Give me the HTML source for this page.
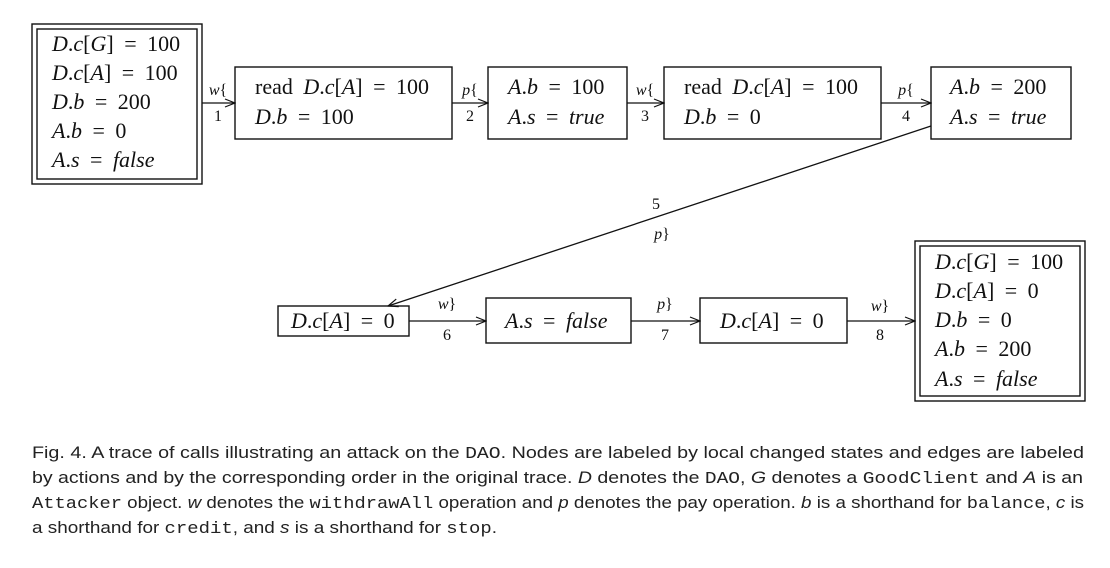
<!DOCTYPE html>
<html><head><meta charset="utf-8"><style>
html,body{margin:0;padding:0;background:#fff;}
svg{display:block;}
.s{font-family:"Liberation Serif",serif;font-size:22px;word-spacing:5px;fill:#111;}
.l{font-family:"Liberation Serif",serif;font-size:16px;fill:#111;}
.c{font-family:"Liberation Sans",sans-serif;font-size:17px;fill:#222;}
.m{font-family:"Liberation Mono",monospace;}
.i{font-style:italic;}
rect{fill:none;stroke:#111;stroke-width:1.4;}
line,polyline{stroke:#111;stroke-width:1.3;fill:none;}
</style></head><body>
<svg width="1110" height="568" viewBox="0 0 1110 568">
<defs><marker id="ar" markerWidth="12" markerHeight="10" refX="11" refY="5" orient="auto" markerUnits="userSpaceOnUse"><polyline points="1,1 11,5 1,9" style="stroke:#111;stroke-width:1.2;fill:none"/></marker></defs>

<g>
<rect x="32" y="24" width="170" height="160"/><rect x="37" y="29" width="160" height="150"/>
<text class="s" x="52" y="51"><tspan class="i">D</tspan>.<tspan class="i">c</tspan>[<tspan class="i">G</tspan>] = 100</text>
<text class="s" x="52" y="80"><tspan class="i">D</tspan>.<tspan class="i">c</tspan>[<tspan class="i">A</tspan>] = 100</text>
<text class="s" x="52" y="109"><tspan class="i">D</tspan>.<tspan class="i">b</tspan> = 200</text>
<text class="s" x="52" y="138"><tspan class="i">A</tspan>.<tspan class="i">b</tspan> = 0</text>
<text class="s" x="52" y="167"><tspan class="i">A</tspan>.<tspan class="i">s</tspan> = <tspan class="i">false</tspan></text>
</g>

<g>
<rect x="235" y="67" width="217" height="72"/>
<text class="s" x="255" y="94">read <tspan class="i">D</tspan>.<tspan class="i">c</tspan>[<tspan class="i">A</tspan>] = 100</text>
<text class="s" x="255" y="124"><tspan class="i">D</tspan>.<tspan class="i">b</tspan> = 100</text>
</g>
<g>
<rect x="488" y="67" width="139" height="72"/>
<text class="s" x="508" y="94"><tspan class="i">A</tspan>.<tspan class="i">b</tspan> = 100</text>
<text class="s" x="508" y="124"><tspan class="i">A</tspan>.<tspan class="i">s</tspan> = <tspan class="i">true</tspan></text>
</g>
<g>
<rect x="664" y="67" width="217" height="72"/>
<text class="s" x="684" y="94">read <tspan class="i">D</tspan>.<tspan class="i">c</tspan>[<tspan class="i">A</tspan>] = 100</text>
<text class="s" x="684" y="124"><tspan class="i">D</tspan>.<tspan class="i">b</tspan> = 0</text>
</g>
<g>
<rect x="931" y="67" width="140" height="72"/>
<text class="s" x="950" y="94"><tspan class="i">A</tspan>.<tspan class="i">b</tspan> = 200</text>
<text class="s" x="950" y="124"><tspan class="i">A</tspan>.<tspan class="i">s</tspan> = <tspan class="i">true</tspan></text>
</g>
<g>
<rect x="278" y="306" width="131" height="30"/>
<text class="s" x="291" y="328"><tspan class="i">D</tspan>.<tspan class="i">c</tspan>[<tspan class="i">A</tspan>] = 0</text>
</g>
<g>
<rect x="486" y="298" width="145" height="45"/>
<text class="s" x="505" y="328"><tspan class="i">A</tspan>.<tspan class="i">s</tspan> = <tspan class="i">false</tspan></text>
</g>
<g>
<rect x="700" y="298" width="147" height="45"/>
<text class="s" x="720" y="328"><tspan class="i">D</tspan>.<tspan class="i">c</tspan>[<tspan class="i">A</tspan>] = 0</text>
</g>
<g>
<rect x="915" y="241" width="170" height="160"/><rect x="920" y="246" width="160" height="150"/>
<text class="s" x="935" y="269"><tspan class="i">D</tspan>.<tspan class="i">c</tspan>[<tspan class="i">G</tspan>] = 100</text>
<text class="s" x="935" y="298"><tspan class="i">D</tspan>.<tspan class="i">c</tspan>[<tspan class="i">A</tspan>] = 0</text>
<text class="s" x="935" y="327"><tspan class="i">D</tspan>.<tspan class="i">b</tspan> = 0</text>
<text class="s" x="935" y="356"><tspan class="i">A</tspan>.<tspan class="i">b</tspan> = 200</text>
<text class="s" x="935" y="386"><tspan class="i">A</tspan>.<tspan class="i">s</tspan> = <tspan class="i">false</tspan></text>
</g>

<g>
<line x1="202" y1="103" x2="235" y2="103" marker-end="url(#ar)"/>
<text class="l" x="218" y="95" text-anchor="middle"><tspan class="i">w</tspan>{</text>
<text class="l" x="218" y="121" text-anchor="middle">1</text>
</g>
<g>
<line x1="452" y1="103" x2="488" y2="103" marker-end="url(#ar)"/>
<text class="l" x="470" y="95" text-anchor="middle"><tspan class="i">p</tspan>{</text>
<text class="l" x="470" y="121" text-anchor="middle">2</text>
</g>
<g>
<line x1="627" y1="103" x2="664" y2="103" marker-end="url(#ar)"/>
<text class="l" x="645" y="95" text-anchor="middle"><tspan class="i">w</tspan>{</text>
<text class="l" x="645" y="121" text-anchor="middle">3</text>
</g>
<g>
<line x1="881" y1="103" x2="931" y2="103" marker-end="url(#ar)"/>
<text class="l" x="906" y="95" text-anchor="middle"><tspan class="i">p</tspan>{</text>
<text class="l" x="906" y="121" text-anchor="middle">4</text>
</g>
<g>
<line x1="931" y1="126" x2="388" y2="306" marker-end="url(#ar)"/>
<text class="l" x="656" y="209" text-anchor="middle">5</text>
<text class="l" x="662" y="239" text-anchor="middle"><tspan class="i">p</tspan>}</text>
</g>
<g>
<line x1="409" y1="321" x2="486" y2="321" marker-end="url(#ar)"/>
<text class="l" x="447" y="309" text-anchor="middle"><tspan class="i">w</tspan>}</text>
<text class="l" x="447" y="340" text-anchor="middle">6</text>
</g>
<g>
<line x1="631" y1="321" x2="700" y2="321" marker-end="url(#ar)"/>
<text class="l" x="665" y="309" text-anchor="middle"><tspan class="i">p</tspan>}</text>
<text class="l" x="665" y="340" text-anchor="middle">7</text>
</g>
<g>
<line x1="847" y1="321" x2="915" y2="321" marker-end="url(#ar)"/>
<text class="l" x="880" y="311" text-anchor="middle"><tspan class="i">w</tspan>}</text>
<text class="l" x="880" y="340" text-anchor="middle">8</text>
</g>

<g>
<text class="c" x="32" y="458" textLength="1052" lengthAdjust="spacingAndGlyphs">Fig. 4.  A trace of calls illustrating an attack on the <tspan class="m">DAO</tspan>. Nodes are labeled by local changed states and edges are labeled</text>
<text class="c" x="32" y="483" textLength="1051" lengthAdjust="spacingAndGlyphs">by actions and by the corresponding order in the original trace. <tspan class="i">D</tspan> denotes the <tspan class="m">DAO</tspan>, <tspan class="i">G</tspan> denotes a <tspan class="m">GoodClient</tspan> and <tspan class="i">A</tspan> is an</text>
<text class="c" x="32" y="508" textLength="1052" lengthAdjust="spacingAndGlyphs"><tspan class="m">Attacker</tspan> object. <tspan class="i">w</tspan> denotes the <tspan class="m">withdrawAll</tspan> operation and <tspan class="i">p</tspan> denotes the pay operation. <tspan class="i">b</tspan> is a shorthand for <tspan class="m">balance</tspan>, <tspan class="i">c</tspan> is</text>
<text class="c" x="32" y="533" textLength="465" lengthAdjust="spacingAndGlyphs">a shorthand for <tspan class="m">credit</tspan>, and <tspan class="i">s</tspan> is a shorthand for <tspan class="m">stop</tspan>.</text>
</g>
</svg>
</body></html>
